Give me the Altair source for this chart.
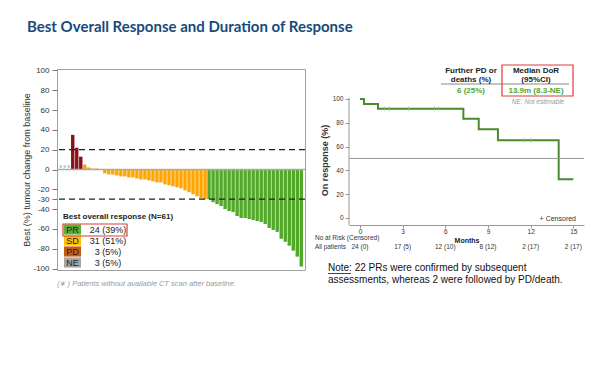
import altair as alt
import pandas as pd

# ---------------- data ----------------
TITLE = "Best Overall Response and Duration of Response"

ne_vals = [3, 3, 3]
pd_vals = [35, 22, 13]
sd_vals = [5, 2, 1, 1, 0.5, -4, -5, -5, -6, -7, -7, -8, -8, -9, -10, -10, -11, -12,
           -13, -13, -15, -16, -17, -18, -19, -21, -23, -25, -27, -29, -30]
pr_vals = [-30, -33, -35, -37, -40, -42, -43, -47, -49, -49, -50, -51, -52, -53,
           -55, -59, -61, -63, -70, -73, -77, -82, -88, -98]

y_ticks = [100, 80, 60, 40, 20, 0, -20, -30, -40, -60, -80, -100]
ref_lines = [20, -30]

legend_cats = ["PR", "SD", "PD", "NE"]
legend_counts = ["24 (39%)", "31 (51%)", "3 (5%)", "3 (5%)"]
legend_colors = ["#5DAE34", "#FFC000", "#C55A11", "#A5A5A5"]

km_t = [0, 0.28, 1.27, 7.27, 8.35, 9.7, 13.97, 15.0]
km_s = [100, 95.8, 91.7, 83.3, 74.6, 65.3, 32.6, 32.6]
cens_t = [1.71, 2.06, 3.43, 5.25, 5.53, 11.51, 12.04]
cens_s = [91.7, 91.7, 91.7, 91.7, 91.7, 65.3, 65.3]
risk_t = [0, 3, 6, 9, 12, 15]
risk_lbl = ["24 (0)", "17 (5)", "12 (10)", "8 (12)", "2 (17)", "2 (17)"]
x_ticks_km = [0, 3, 6, 9, 12, 15]
y_ticks_km = [0, 20, 40, 60, 80, 100]

# ---------------- frames ----------------
resp = ["NE"] * len(ne_vals) + ["PD"] * len(pd_vals) + ["SD"] * len(sd_vals) + ["PR"] * len(pr_vals)
vals = ne_vals + pd_vals + sd_vals + pr_vals
wf = pd.DataFrame({"idx": list(range(len(vals))), "resp": resp, "val": vals})
bars_df = wf[wf.resp != "NE"]
ne_df = wf[wf.resp == "NE"]

legend_df = pd.DataFrame({"cat": legend_cats, "count": legend_counts, "color": legend_colors})

FONT = "Liberation Sans, Arial, sans-serif"

W1, H1 = 248, 201
yscale = alt.Scale(domain=[-101.5, 101.5], nice=False, zero=False)
xscale = alt.Scale(domain=list(range(len(vals))), paddingInner=0.15, paddingOuter=0.5)

bars = alt.Chart(bars_df).mark_bar().encode(
    x=alt.X("idx:O", scale=xscale, axis=None),
    y=alt.Y("val:Q", scale=yscale,
            axis=alt.Axis(values=y_ticks, title="Best (%) tumour change from baseline",
                          titleFontSize=9, titleFontWeight="normal", titleColor="#333",
                          titleX=-31, titleBaseline="middle",
                          labelFontSize=8, labelColor="#333", tickSize=5, tickColor="#777",
                          labelPadding=3, domain=False, grid=False, labelOverlap=False,
                          labelExpr="'' + datum.value")),
    color=alt.Color("resp:N", scale=alt.Scale(domain=["PD", "SD", "PR"],
                                              range=["#8A1118", "#FFA500", "#52A829"]),
                    legend=None),
)

ne_pts = alt.Chart(ne_df).mark_square(size=5, color="#BBBBBB", opacity=1).encode(
    x=alt.X("idx:O", scale=xscale, axis=None),
    y=alt.Y("val:Q", scale=yscale, axis=None),
)

zero = alt.Chart(pd.DataFrame({"v": [0]})).mark_rule(color="#AAAAAA", strokeWidth=1.5).encode(
    y=alt.Y("v:Q", scale=yscale, axis=None))

refs = alt.Chart(pd.DataFrame({"v": ref_lines})).mark_rule(
    color="#222222", strokeWidth=1.3, strokeDash=[6, 4]).encode(
    y=alt.Y("v:Q", scale=yscale, axis=None))

leg_scale = alt.Scale(type="band", domain=legend_cats, range=[155, 199], paddingInner=0.08)
leg_sw = alt.Chart(legend_df).mark_rect().encode(
    x=alt.value(7), x2=alt.value(24),
    y=alt.Y("cat:N", scale=leg_scale, axis=None),
    color=alt.Color("color:N", scale=None),
)
leg_lab = alt.Chart(legend_df).mark_text(fontSize=9, color="#222", font=FONT).encode(
    x=alt.value(15.5), y=alt.Y("cat:N", scale=leg_scale, axis=None), text="cat:N")
leg_cnt = alt.Chart(legend_df).mark_text(fontSize=9, color="#222", font=FONT).encode(
    x=alt.value(51), y=alt.Y("cat:N", scale=leg_scale, axis=None), text="count:N")
one = pd.DataFrame({"a": [0]})
leg_title = alt.Chart(one).mark_text(fontSize=8, fontWeight="bold", color="#222",
                                     align="left", font=FONT).encode(
    x=alt.value(6), y=alt.value(148), text=alt.value("Best overall response (N=61)"))
leg_box = alt.Chart(one).mark_rect(filled=False, stroke="#E03A3A", strokeWidth=1.2).encode(
    x=alt.value(6), x2=alt.value(70), y=alt.value(155), y2=alt.value(167))
foot = alt.Chart(one).mark_text(fontSize=7.5, fontStyle="italic", color="#9A9A9A",
                                align="left", font=FONT).encode(
    x=alt.value(0), y=alt.value(215),
    text=alt.value("(\u2217 ) Patients without available CT scan after baseline."))
title = alt.Chart(one).mark_text(fontSize=15, fontWeight="bold", color="#174A7C", align="left",
                                 font="Lato, Liberation Sans, sans-serif").encode(
    x=alt.value(-30), y=alt.value(-42), text=alt.value(TITLE))

left = alt.layer(bars, ne_pts, zero, refs, leg_sw, leg_lab, leg_cnt, leg_title, leg_box,
                 foot, title).resolve_scale(y="independent").properties(
    width=W1, height=H1, view=alt.ViewBackground(stroke="#A0A0A0", strokeWidth=1))

# ---------------- right: KM ----------------
W2, H2 = 235, 156
xs2 = alt.Scale(domain=[-0.77, 15.75], nice=False, zero=False)
ys2 = alt.Scale(domain=[-5.9, 125.2], nice=False, zero=False)
xaxis2 = alt.Axis(values=x_ticks_km, title="Months", titleFontSize=7, titleFontWeight="bold",
                  titleColor="#222", titlePadding=2, labelFontSize=6.5, labelColor="#333",
                  tickSize=3, labelPadding=0, domainColor="#999", tickColor="#999",
                  grid=False, labelOverlap=False)
yaxis2 = alt.Axis(values=y_ticks_km, title="On response (%)", titleFontSize=9,
                  titleFontWeight="bold", titleColor="#333", titleX=-25, titleY=91,
                  titleBaseline="middle", labelFontSize=6.5, labelColor="#333",
                  tickSize=4, tickColor="#999", labelPadding=2, domain=False, grid=False,
                  labelOverlap=False)

km_df = pd.DataFrame({"t": km_t, "s": km_s})
cens_df = pd.DataFrame({"t": cens_t, "s": cens_s})
risk_df = pd.DataFrame({"t": risk_t, "lbl": risk_lbl})

km_line = alt.Chart(km_df).mark_line(interpolate="step-after", color="#4A8B2C", strokeWidth=2).encode(
    x=alt.X("t:Q", scale=xs2, axis=xaxis2),
    y=alt.Y("s:Q", scale=ys2, axis=yaxis2),
)
cens = alt.Chart(cens_df).mark_tick(orient="vertical", size=5, thickness=1, color="#9CC08A").encode(
    x=alt.X("t:Q", scale=xs2, axis=xaxis2), y=alt.Y("s:Q", scale=ys2, axis=yaxis2))
half = alt.Chart(one).mark_rule(color="#999999", strokeWidth=1).encode(
    y=alt.Y(datum=50, scale=ys2, axis=yaxis2))
yline = alt.Chart(one).mark_rule(color="#999999", strokeWidth=1).encode(
    x=alt.value(0), y=alt.Y(datum=101, scale=ys2, axis=yaxis2), y2=alt.Y2(datum=-5.9))
risk = alt.Chart(risk_df).mark_text(fontSize=6.5, color="#333", font=FONT).encode(
    x=alt.X("t:Q", scale=xs2, axis=xaxis2), y=alt.value(178), text="lbl:N")

def txt(s, x, y, size=7, weight="normal", color="#333", align="center", style="normal"):
    return alt.Chart(one).mark_text(fontSize=size, fontWeight=weight, color=color, align=align,
                                    fontStyle=style, font=FONT).encode(
        x=alt.value(x), y=alt.value(y), text=alt.value(s))

texts = [
    txt("No at Risk (Censored)", -34, 169, size=6.5, align="left"),
    txt("All patients", -34, 178, size=6.3, align="left"),
    txt("+ Censored", 227, 150, align="right"),
    txt("Further PD or", 122, 2, size=8, weight="bold", color="#222"),
    txt("deaths (%)", 122, 10.5, size=8, weight="bold", color="#222"),
    txt("Median DoR", 187, 2, size=8, weight="bold", color="#222"),
    txt("(95%CI)", 187, 10.5, size=8, weight="bold", color="#222"),
    txt("6 (25%)", 122, 22, size=8, weight="bold", color="#4EA72E"),
    txt("13.9m (8.3-NE)", 187, 22, size=8, weight="bold", color="#4EA72E"),
    txt("NE: Not estimable", 189, 33, size=6.5, color="#999", style="italic"),
    txt("Note: 22 PRs were confirmed by subsequent", -21, 199, size=10, color="#111", align="left"),
    txt("assessments, whereas 2 were followed by PD/death.", -21, 211, size=10, color="#111", align="left"),
]
hdr_line = alt.Chart(one).mark_rule(color="#888", strokeWidth=1).encode(
    x=alt.value(92), x2=alt.value(220), y=alt.value(15))
hdr_box = alt.Chart(one).mark_rect(filled=False, stroke="#E03A3A", strokeWidth=1.2).encode(
    x=alt.value(153), x2=alt.value(224), y=alt.value(-4), y2=alt.value(27))
note_ul = alt.Chart(one).mark_rule(color="#111", strokeWidth=0.8).encode(
    x=alt.value(-21), x2=alt.value(2), y=alt.value(204.5))

right = alt.layer(km_line, half, yline, cens, risk, hdr_line, hdr_box, note_ul, *texts).properties(
    width=W2, height=H2, view=alt.ViewBackground(stroke=None))

chart = alt.hconcat(left, right, spacing=44, bounds="flush",
                    padding={"left": 13, "top": 11, "right": 0, "bottom": 0}).configure_view(
    stroke=None).configure(font=FONT)

chart.save("out.html", embed_options={"renderer": "svg", "actions": False})
